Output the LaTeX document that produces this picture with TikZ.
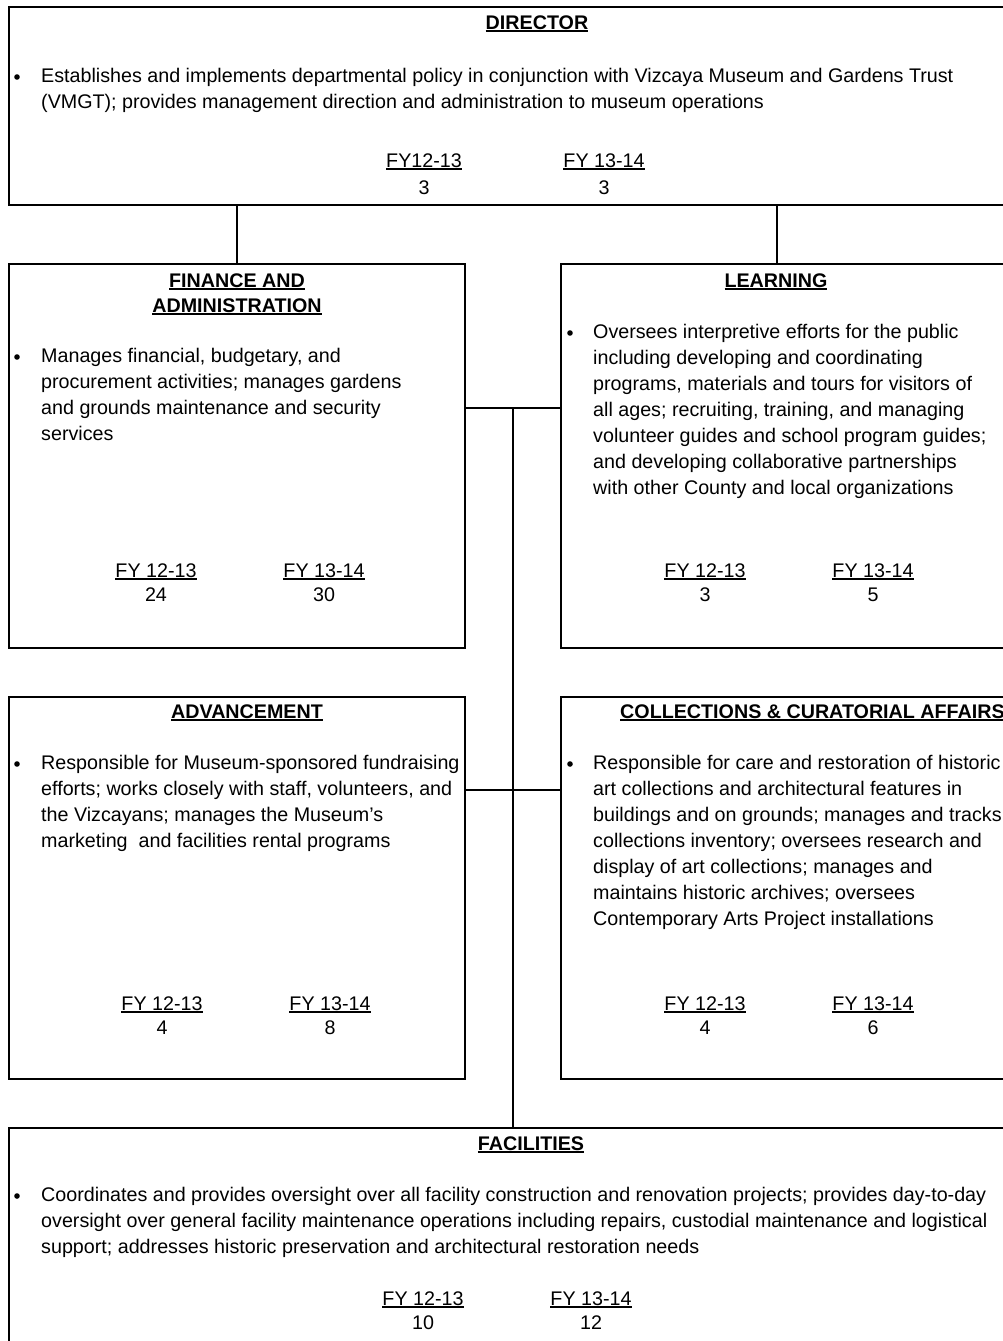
\documentclass[tikz,border=0pt]{standalone}
\usepackage{fontspec}
\setmainfont{Liberation Sans}
\newcommand\bodyfont{\fontsize{19.7}{26}\selectfont}
\newcommand\myul[1]{\setbox0\hbox{#1}\rlap{\rule[-2.6pt]{\wd0}{1.3pt}}\box0}
\tikzset{
  box/.style={draw, line width=1.6pt, anchor=north west, inner sep=0pt, outer sep=0pt},
  conn/.style={line width=1.4pt},
  body/.style={anchor=north west, inner sep=0pt, align=left, font=\bodyfont},
  ttl/.style={anchor=base, inner sep=0pt, font=\bodyfont\bfseries},
  fy/.style={anchor=base, inner sep=0pt, font=\bodyfont},
  bul/.style={circle, fill, inner sep=0pt, minimum size=5.6pt}
}
\begin{document}
\begin{tikzpicture}[x=1pt,y=-1pt]
\useasboundingbox (0,0) rectangle (1003,1341);
\clip (0,0) rectangle (1003,1341);
% boxes
\node[box, minimum width=1060pt, minimum height=198pt] (dir) at (9,7) {};
\node[box, minimum width=456pt, minimum height=384pt] (fin) at (9,264) {};
\node[box, minimum width=460pt, minimum height=384pt] (lrn) at (561,264) {};
\node[box, minimum width=456pt, minimum height=382pt] (adv) at (9,697) {};
\node[box, minimum width=460pt, minimum height=382pt] (col) at (561,697) {};
\node[box, minimum width=1060pt, minimum height=240pt] (fac) at (9,1128) {};
% connector points
\coordinate (lrntop) at (777,264);
\coordinate (hub) at (513,408);
\coordinate (hub2) at (513,790);
% connectors
\draw[conn] (dir.south -| fin.north) -- (fin.north);
\draw[conn] (dir.south -| lrntop) -- (lrntop);
\draw[conn] (fin.east |- hub) -- (lrn.west |- hub);
\draw[conn] (adv.east |- hub2) -- (col.west |- hub2);
\draw[conn] (hub) -- (fac.north -| hub);
% DIRECTOR
\node[ttl] (dirt) at (537,29) {\myul{DIRECTOR}};
\node[bul] (dirb) at (17,77) {};
\node[body] (dirx) at (41,63.8) {\strut Establishes and implements departmental policy in conjunction with Vizcaya Museum and Gardens Trust\\(VMGT); provides management direction and administration to museum operations};
\node[fy] (dirf1) at (424,167) {\myul{FY12-13}};
\node[fy] (dirn1) at (424,194) {3};
\node[fy] (dirf2) at (604,167) {\myul{FY 13-14}};
\node[fy] (dirn2) at (604,194) {3};
% FINANCE
\node[ttl] (fint1) at (237,287) {\myul{FINANCE AND}};
\node[ttl] (fint2) at (237,312) {\myul{ADMINISTRATION}};
\node[bul] (finb) at (17,357) {};
\node[body] (finx) at (41,343.8) {\strut Manages financial, budgetary, and\\procurement activities; manages gardens\\and grounds maintenance and security\\services};
\node[fy] (finf1) at (156,577) {\myul{FY 12-13}};
\node[fy] (finn1) at (156,601) {24};
\node[fy] (finf2) at (324,577) {\myul{FY 13-14}};
\node[fy] (finn2) at (324,601) {30};
% LEARNING
\node[ttl] (lrnt) at (776,287) {\myul{LEARNING}};
\node[bul] (lrnb) at (570,333) {};
\node[body] (lrnx) at (593,319.8) {\strut Oversees interpretive efforts for the public\\including developing and coordinating\\programs, materials and tours for visitors of\\all ages; recruiting, training, and managing\\volunteer guides and school program guides;\\and developing collaborative partnerships\\with other County and local organizations};
\node[fy] (lrnf1) at (705,577) {\myul{FY 12-13}};
\node[fy] (lrnn1) at (705,601) {3};
\node[fy] (lrnf2) at (873,577) {\myul{FY 13-14}};
\node[fy] (lrnn2) at (873,601) {5};
% ADVANCEMENT
\node[ttl] (advt) at (247,718) {\myul{ADVANCEMENT}};
\node[bul] (advb) at (17,764) {};
\node[body] (advx) at (41,750.8) {\strut Responsible for Museum-sponsored fundraising\\efforts; works closely with staff, volunteers, and\\the Vizcayans; manages the Museum’s\\marketing~ and facilities rental programs};
\node[fy] (advf1) at (162,1010) {\myul{FY 12-13}};
\node[fy] (advn1) at (162,1034) {4};
\node[fy] (advf2) at (330,1010) {\myul{FY 13-14}};
\node[fy] (advn2) at (330,1034) {8};
% COLLECTIONS
\node[ttl, anchor=base west] (colt) at (620,718) {\myul{COLLECTIONS \& CURATORIAL AFFAIRS}};
\node[bul] (colb) at (570,764) {};
\node[body] (colx) at (593,750.8) {\strut Responsible for care and restoration of historic\\art collections and architectural features in\\buildings and on grounds; manages and tracks\\collections inventory; oversees research and\\display of art collections; manages and\\maintains historic archives; oversees\\Contemporary Arts Project installations};
\node[fy] (colf1) at (705,1010) {\myul{FY 12-13}};
\node[fy] (coln1) at (705,1034) {4};
\node[fy] (colf2) at (873,1010) {\myul{FY 13-14}};
\node[fy] (coln2) at (873,1034) {6};
% FACILITIES
\node[ttl] (fact) at (531,1150) {\myul{FACILITIES}};
\node[bul] (facb) at (17,1196) {};
\node[body] (facx) at (41,1182.8) {\strut Coordinates and provides oversight over all facility construction and renovation projects; provides day-to-day\\oversight over general facility maintenance operations including repairs, custodial maintenance and logistical\\support; addresses historic preservation and architectural restoration needs};
\node[fy] (facf1) at (423,1305) {\myul{FY 12-13}};
\node[fy] (facn1) at (423,1329) {10};
\node[fy] (facf2) at (591,1305) {\myul{FY 13-14}};
\node[fy] (facn2) at (591,1329) {12};
\end{tikzpicture}
\end{document}
